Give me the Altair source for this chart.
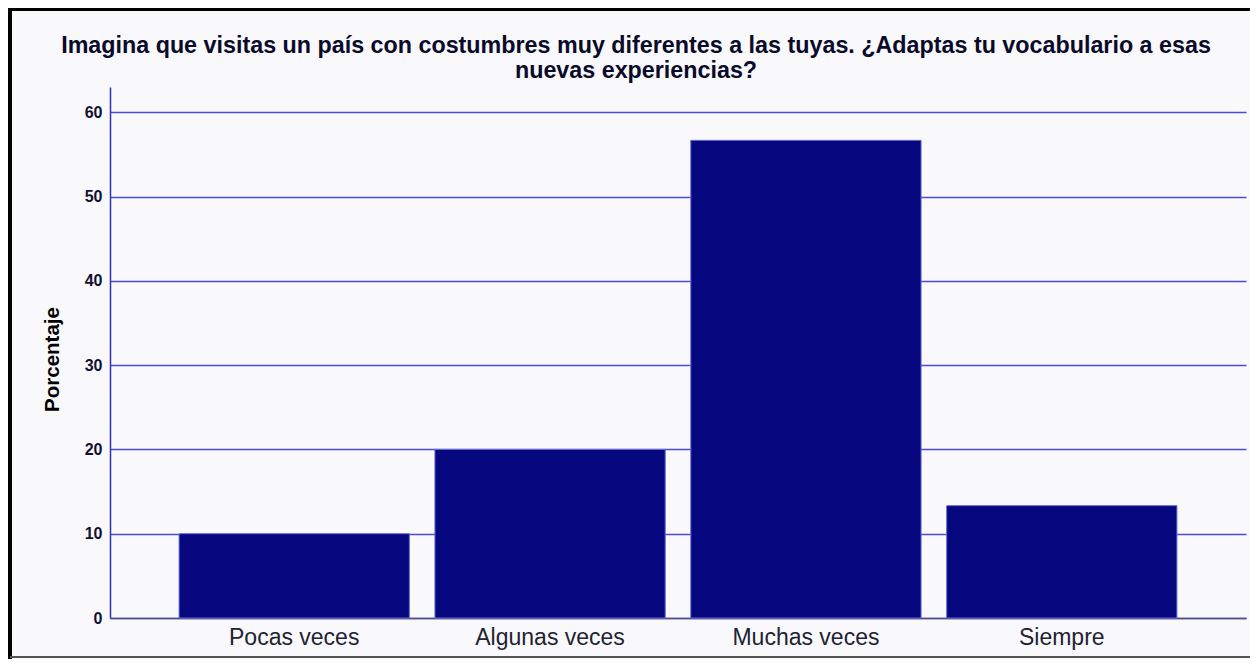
import altair as alt
import pandas as pd

categories = ["Pocas veces", "Algunas veces", "Muchas veces", "Siempre"]
percentages = [10.0, 20.0, 56.67, 13.33]
y_ticks = [0, 10, 20, 30, 40, 50, 60]
title_line1 = "Imagina que visitas un país con costumbres muy diferentes a las tuyas. ¿Adaptas tu vocabulario a esas"
title_line2 = "nuevas experiencias?"

df = pd.DataFrame({"cat": categories, "pct": percentages})
one = pd.DataFrame({"a": [0]})

FONT = "Liberation Sans"

bars = alt.Chart(df).mark_bar(
    color="#06067F", stroke="#6A6AD0", strokeWidth=1
).encode(
    x=alt.X(
        "cat:N",
        sort=categories,
        scale=alt.Scale(paddingInner=0.1, paddingOuter=0.27),
        axis=alt.Axis(
            title="",
            labelAngle=0,
            labelFont=FONT,
            labelFontSize=23,
            labelColor="#222233",
            labelPadding=8,
            ticks=False,
            domainColor="#505080",
            domainWidth=1.5,
            grid=False,
        ),
    ),
    y=alt.Y(
        "pct:Q",
        scale=alt.Scale(domain=[0, 63], nice=False),
        axis=alt.Axis(
            title="Porcentaje",
            titleFont=FONT,
            titleFontSize=20.5,
            titleFontWeight="bold",
            titleColor="#000000",
            titleX=-48,
            titleY=272,
            titleAngle=-90,
            titleAlign="center",
            titleBaseline="bottom",
            values=y_ticks,
            labelFont=FONT,
            labelFontSize=16,
            labelFontWeight="bold",
            labelColor="#111133",
            labelPadding=8,
            ticks=False,
            domainColor="#3030B8",
            domainWidth=1.5,
            grid=True,
            gridColor="#4B4BD8",
            gridWidth=1.3,
        ),
    ),
)

title_style = dict(
    font=FONT, fontSize=23.3, fontWeight="bold", color="#0A0A2A",
    align="center", baseline="alphabetic",
)
title1 = alt.Chart(one).mark_text(**title_style).encode(
    x=alt.value(526), y=alt.value(-34.5), text=alt.value(title_line1)
)
title2 = alt.Chart(one).mark_text(**title_style).encode(
    x=alt.value(526), y=alt.value(-9), text=alt.value(title_line2)
)

# decorative frame (left thick black band, top band, bottom gray line)
frame_left = alt.Chart(one).mark_rule(color="#000000", strokeWidth=4).encode(
    x=alt.value(-100), y=alt.value(-90), y2=alt.value(700)
)
frame_top = alt.Chart(one).mark_rule(color="#000000", strokeWidth=4).encode(
    y=alt.value(-78), x=alt.value(-110), x2=alt.value(1200)
)
frame_bottom = alt.Chart(one).mark_rule(color="#555555", strokeWidth=2).encode(
    y=alt.value(570), x=alt.value(-100), x2=alt.value(1200)
)

chart = alt.layer(bars, title1, title2, frame_left, frame_top, frame_bottom).properties(
    width=1136,
    height=531,
    autosize=alt.AutoSizeParams(type="none"),
    padding={"left": 102, "top": 79, "right": 4, "bottom": 41},
    background="#F9F9FC",
).configure_view(stroke=None)

chart.save("out.html", embed_options={"renderer": "svg", "actions": False})
